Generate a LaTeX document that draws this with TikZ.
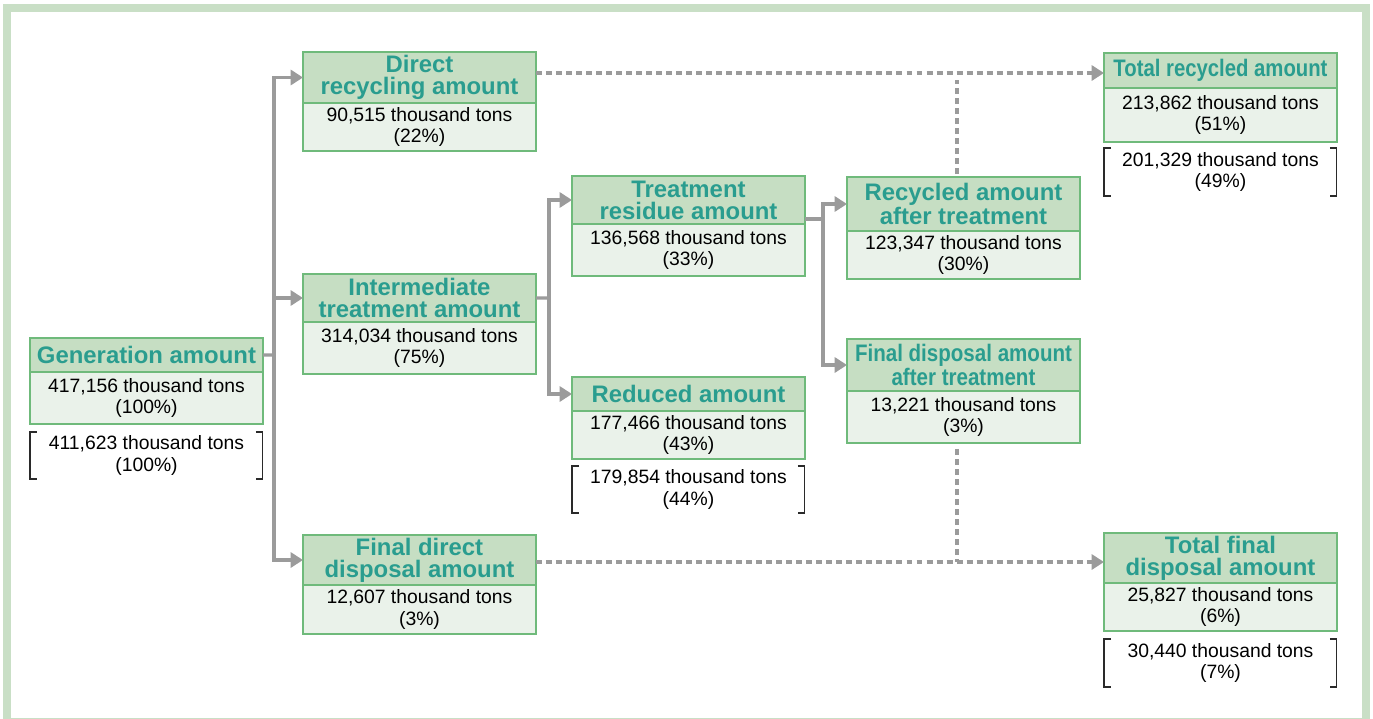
\documentclass[tikz,border=0pt]{standalone}
\usepackage{fontspec}
\setmainfont{Liberation Sans}
\usepackage{graphicx}
\usetikzlibrary{arrows.meta}
\definecolor{hdrfill}{HTML}{C6DEC3}
\definecolor{bodyfill}{HTML}{EAF2EA}
\definecolor{boxline}{HTML}{6FBA7B}
\definecolor{hdrtext}{HTML}{2A9D8F}
\definecolor{arrgray}{HTML}{9B9B9B}
\definecolor{framec}{HTML}{C9DFC6}
\definecolor{brkc}{HTML}{2A2A2A}
\begin{document}
\begin{tikzpicture}[x=0.02cm,y=-0.02cm,
 hdr/.style={draw=boxline, fill=hdrfill, line width=1.3pt, text=hdrtext,
   font=\fontsize{13.6}{12.4}\selectfont\bfseries, align=center,
   minimum width=4.66cm, inner sep=0pt, outer sep=0pt, anchor=north west},
 bdy/.style={draw=boxline, fill=bodyfill, line width=1.3pt, text=black,
   font=\fontsize{11}{12}\selectfont, align=center,
   minimum width=4.66cm, inner sep=0pt, outer sep=0pt, anchor=north west},
 brk/.style={font=\fontsize{11}{12}\selectfont, align=center,
   minimum width=4.66cm, inner sep=0pt, outer sep=0pt, anchor=north west},
 brkline/.style={draw=brkc, line width=0.6pt},
 link/.style={draw=arrgray, line width=1.8pt},
 arr/.style={link, -{Triangle[length=7pt,width=8.5pt]}},
 dots/.style={draw=arrgray, line width=2pt, dash pattern=on 3.4pt off 2.3pt},
 dotarr/.style={dots, -{Triangle[length=7pt,width=8.5pt]}}]

\clip (0,0) rectangle (1373,718);
\fill[white] (0,0) rectangle (1373,718);
\draw[framec, line width=4.5pt] (7,8) rectangle (1366,722);

% Generation
\node[hdr, minimum height=0.68cm] (gen_h) at (30,338) {Generation amount};
\node[bdy, minimum height=1.04cm] (gen_b) at (gen_h.south west) {417,156 thousand tons\\(100\%)};
\node[brk, minimum height=0.94cm] (gen_k) at (30,432) {411,623 thousand tons\\(100\%)};

% Direct recycling
\node[hdr, minimum height=1.02cm] (dir_h) at (303,52) {Direct\\recycling amount};
\node[bdy, minimum height=0.96cm] (dir_b) at (dir_h.south west) {90,515 thousand tons\\(22\%)};

% Intermediate treatment
\node[hdr, minimum height=0.96cm] (int_h) at (303,274) {Intermediate\\treatment amount};
\node[bdy, minimum height=1.04cm] (int_b) at (int_h.south west) {314,034 thousand tons\\(75\%)};

% Final direct disposal
\node[hdr, minimum height=1.0cm] (fdd_h) at (303,535) {Final direct\\disposal amount};
\node[bdy, minimum height=0.98cm] (fdd_b) at (fdd_h.south west) {12,607 thousand tons\\(3\%)};

% Treatment residue
\node[hdr, minimum height=0.96cm] (trr_h) at (572,176) {Treatment\\residue amount};
\node[bdy, minimum height=1.04cm] (trr_b) at (trr_h.south west) {136,568 thousand tons\\(33\%)};

% Reduced
\node[hdr, minimum height=0.68cm] (red_h) at (572,377) {Reduced amount};
\node[bdy, minimum height=0.96cm] (red_b) at (red_h.south west) {177,466 thousand tons\\(43\%)};
\node[brk, minimum height=0.94cm] (red_k) at (572,466) {179,854 thousand tons\\(44\%)};

% Recycled after treatment
\node[hdr, minimum height=1.08cm] (rat_h) at (847,177) {Recycled amount\\after treatment};
\node[bdy, minimum height=0.96cm] (rat_b) at (rat_h.south west) {123,347 thousand tons\\(30\%)};

% Final disposal after treatment
\node[hdr, minimum height=1.04cm] (fat_h) at (847,339) {\scalebox{0.86}[1]{Final disposal amount}\\\scalebox{0.86}[1]{after treatment}};
\node[bdy, minimum height=1.04cm] (fat_b) at (fat_h.south west) {13,221 thousand tons\\(3\%)};

% Total recycled
\node[hdr, minimum height=0.70cm] (tra_h) at (1104,53) {\scalebox{0.85}[1]{Total recycled amount}};
\node[bdy, minimum height=1.08cm] (tra_b) at (tra_h.south west) {213,862 thousand tons\\(51\%)};
\node[brk, minimum height=0.96cm] (tra_k) at (1104,148) {201,329 thousand tons\\(49\%)};

% Total final disposal
\node[hdr, minimum height=1.0cm] (tfd_h) at (1104,533) {Total final\\disposal amount};
\node[bdy, minimum height=0.96cm] (tfd_b) at (tfd_h.south west) {25,827 thousand tons\\(6\%)};
\node[brk, minimum height=0.96cm] (tfd_k) at (1104,639) {30,440 thousand tons\\(7\%)};

% brackets
\foreach \k in {gen_k,red_k,tra_k,tfd_k} {
  \draw[brkline] ([xshift=0.14cm]\k.north west) -- (\k.north west) -- (\k.south west) -- ([xshift=0.14cm]\k.south west);
  \draw[brkline] ([xshift=-0.14cm]\k.north east) -- (\k.north east) -- (\k.south east) -- ([xshift=-0.14cm]\k.south east);
}

% solid connectors
\coordinate (j1) at (274,355);
\draw[link] (gen_h.east) -- (j1);
\draw[arr] (j1) |- (dir_h.west);
\draw[arr] (j1) |- (int_h.west);
\draw[arr] (j1) |- (fdd_h.west);

\coordinate (j2) at (549,298);
\draw[link] (int_h.east) -- (j2);
\draw[arr] (j2) |- (trr_h.west);
\draw[arr] (j2) |- (red_h.west);

\coordinate (j3) at (823,219);
\draw[link] (j3 -| trr_h.east) -- (j3);
\draw[arr] (j3) |- (rat_h.west);
\draw[arr] (j3) |- (fat_h.west);

% dotted connectors
\coordinate (d1) at (957,73);
\coordinate (d1b) at (957,80);
\draw[dotarr] (d1 -| dir_h.east) -- (d1 -| tra_h.west);
\draw[dots] (rat_h.north -| d1) ++(0,-3) -- (d1b);
\coordinate (d2) at (957,562);
\draw[dotarr] (d2 -| fdd_h.east) -- (d2 -| tfd_h.west);
\draw[dots] (fat_b.south -| d2) ++(0,6) -- (d2);
\end{tikzpicture}
\end{document}
